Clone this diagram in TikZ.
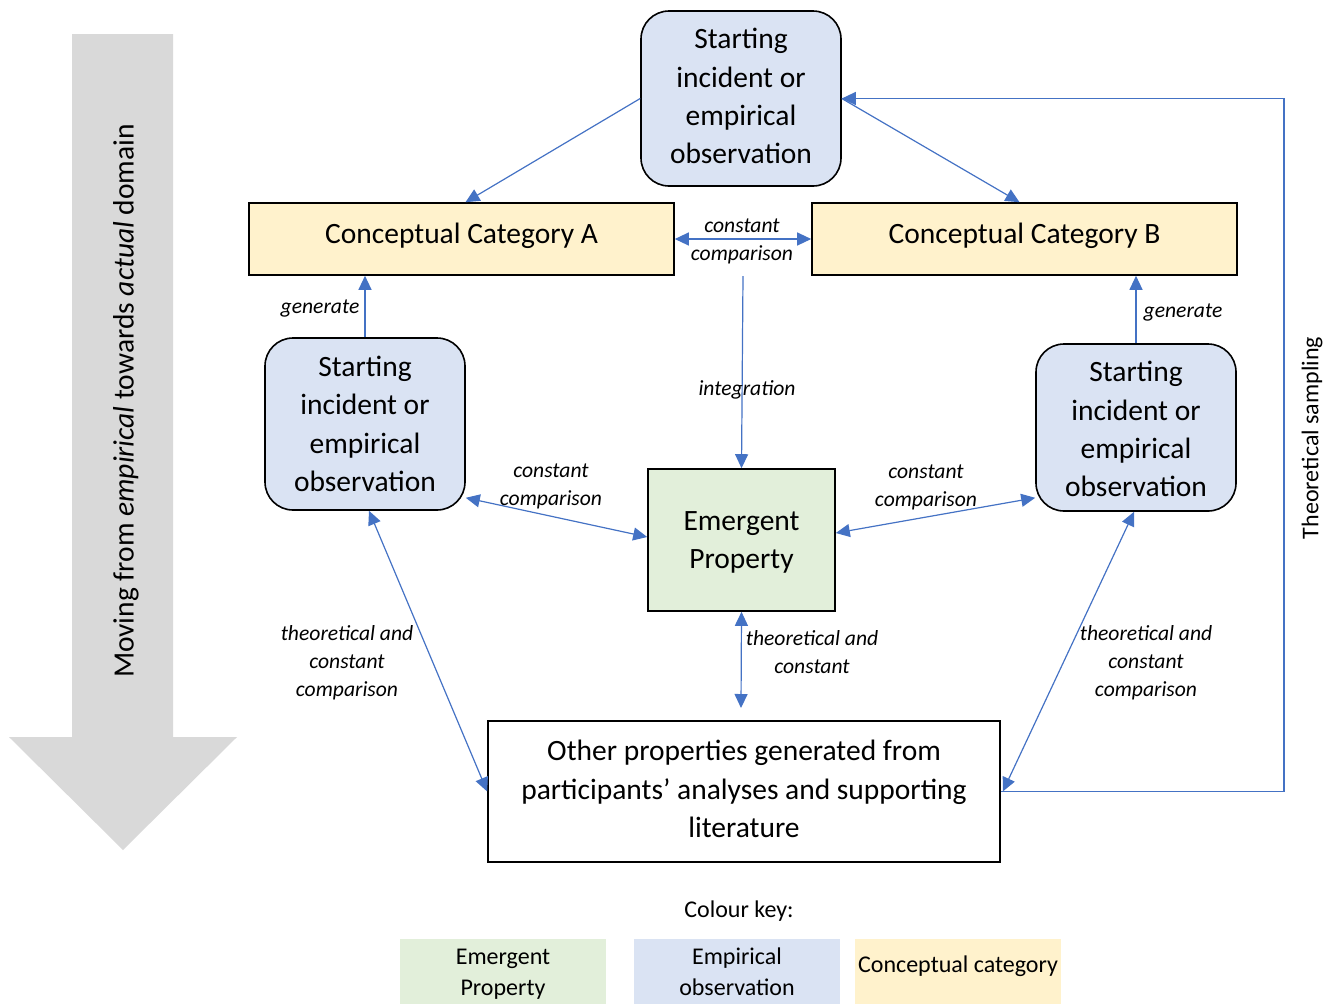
\documentclass[tikz,border=0pt]{standalone}
\usepackage{fontspec}
\setmainfont{Carlito}
\usetikzlibrary{arrows.meta}
\definecolor{linkblue}{HTML}{4472C4}
\definecolor{empfill}{HTML}{DAE3F3}
\definecolor{catfill}{HTML}{FFF2CC}
\definecolor{emgfill}{HTML}{E2EFDA}
\definecolor{flowgray}{HTML}{D9D9D9}
\tikzset{
  obsbox/.style={draw=black, line width=1.6pt, fill=empfill, rounded corners=28pt,
    minimum width=200pt, align=center, inner sep=0pt,
    font=\fontsize{29.5}{38.3}\selectfont},
  catbox/.style={draw=black, line width=1.6pt, fill=catfill, minimum width=425pt,
    minimum height=72pt, inner sep=0pt, font=\fontsize{29.5}{35}\selectfont},
  emgbox/.style={draw=black, line width=1.6pt, fill=emgfill, minimum width=187pt,
    minimum height=142pt, align=center, inner sep=0pt,
    font=\fontsize{29.5}{38.3}\selectfont},
  othbox/.style={draw=black, line width=1.6pt, fill=white, minimum width=512pt,
    minimum height=141pt, align=center, inner sep=0pt,
    font=\fontsize{29.5}{38.3}\selectfont},
  keybox/.style={minimum width=206pt, minimum height=65pt, align=center, inner sep=0pt,
    font=\fontsize{24}{31}\selectfont},
  arr/.style={draw=linkblue, line width=1.2pt, -{Triangle[length=14pt,width=13pt]}},
  darr/.style={draw=linkblue, line width=1.2pt,
    {Triangle[length=14pt,width=13pt]}-{Triangle[length=14pt,width=13pt]}},
  lbl/.style={align=center, inner sep=0pt, font=\fontsize{21.6}{28}\selectfont\itshape},
}
% multi-line box text, shifted vertically while keeping its size
\newcommand{\liftlines}[2]{\raisebox{#1}[\height][\depth]{\begin{tabular}{@{}c@{}}#2\end{tabular}}}
\begin{document}
\begin{tikzpicture}[x=1pt, y=-1pt]
\useasboundingbox (0,0) rectangle (1333,1005);

% broad downward arrow on the left
\fill[flowgray] (72,34) -- (173,34) -- (173,737) -- (237,737) -- (123,850)
  -- (9,737) -- (72,737) -- cycle;
\node[rotate=90, inner sep=0pt, font=\fontsize{29.5}{35}\selectfont] (domain) at (126,401)
  {Moving from \emph{empirical} towards \emph{actual} domain};

% boxes
\node[obsbox, minimum height=175pt] (top) at (741,98.5)
  {\liftlines{0pt}{Starting\\incident or\\empirical\\observation}};
\node[catbox] (catA) at (461.5,239) {\raisebox{12pt}{Conceptual Category A}};
\node[catbox] (catB) at (1024.5,239) {\raisebox{12pt}{Conceptual Category B}};
\node[obsbox, minimum height=172pt] (obsL) at (365,424)
  {Starting\\incident or\\empirical\\observation};
\node[obsbox, minimum height=167pt] (obsR) at (1136,427.5)
  {\liftlines{-4pt}{Starting\\incident or\\empirical\\observation}};
\node[emgbox] (emg) at (741.5,540) {\liftlines{-2pt}{Emergent\\Property}};
\node[othbox] (other) at (744,791.5)
  {\liftlines{0pt}{Other properties generated from\\participants’ analyses and supporting\\literature}};

% colour key
\node[inner sep=0pt, font=\fontsize{24}{28}\selectfont] (keytitle) at (739,911) {Colour key:};
\node[keybox, fill=emgfill] (keyE) at (503,971.5) {\liftlines{-2pt}{Emergent\\Property}};
\node[keybox, fill=empfill] (keyO) at (737,971.5) {Empirical\\observation};
\node[keybox, fill=catfill] (keyC) at (958,971.5) {\raisebox{14pt}{Conceptual category}};

% connector end points
\coordinate (intTop) at (743,276);
\coordinate (emgLow) at (741,708);
\coordinate (sampCorner) at (1284,791.5);

% connectors
\draw[arr] (top.west) -- ([xshift=4pt]catA.north);
\draw[arr] (top.east) -- ([xshift=-5pt]catB.north);
\draw[darr] (catA.east) -- (catB.east -| catB.west);
\draw[arr] (obsL.north) -- (catA.south -| obsL.north);
\draw[arr] (obsR.north) -- (catB.south -| obsR.north);
\draw[arr] (intTop) -- (emg.north);
\draw[darr] ([yshift=13pt]obsL.south east) -- ([yshift=3pt]emg.west);
\draw[darr] ([yshift=14pt]obsR.south west) -- ([yshift=7pt]emg.east);
\draw[darr] (emg.south) -- (emgLow);
\draw[darr] ([xshift=4pt]obsL.south) -- (other.west);
\draw[darr] ([xshift=-2pt]obsR.south) -- ([xshift=2pt]other.east);
\draw[arr] (other.east) -- (sampCorner) |- (top.east);

% connector labels
\node[lbl] (lAB) at (742,241) {constant\\comparison};
\node[lbl] (lint) at (747,390) {integration};
\node[lbl] (lgenA) at (320,309) {generate};
\node[lbl] (lgenB) at (1183,313) {generate};
\node[lbl] (lcL) at (551,486) {constant\\comparison};
\node[lbl] (lcR) at (926,487) {constant\\comparison};
\node[lbl] (ltc) at (812,652) {theoretical and\\constant};
\node[lbl] (ltL) at (347,663) {theoretical and\\constant\\comparison};
\node[lbl] (ltR) at (1146,663) {theoretical and\\constant\\comparison};
\node[rotate=90, inner sep=0pt, font=\fontsize{24}{28}\selectfont] (lsamp) at (1312,438)
  {Theoretical sampling};
\end{tikzpicture}
\end{document}
